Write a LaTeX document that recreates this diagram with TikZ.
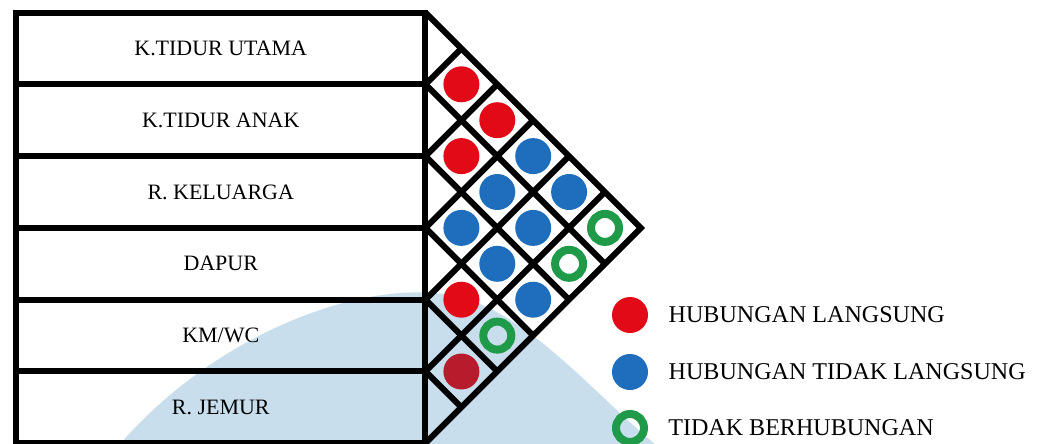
\documentclass[tikz,border=0pt]{standalone}
\usepackage{fontspec}
\setmainfont{Liberation Serif}
\usetikzlibrary{positioning}
\definecolor{dotRed}{HTML}{E30A17}
\definecolor{dotRedShade}{HTML}{B71C2C}
\definecolor{dotBlue}{HTML}{1F6EBE}
\definecolor{ringGreen}{HTML}{1F9A48}
\definecolor{markBlue}{HTML}{C9DEEC}

\begin{document}
\begin{tikzpicture}[
    x=0.02cm, y=-0.02cm,
    room/.style={draw=black, line width=0.12cm, minimum width=8.19cm, minimum height=1.436cm, inner sep=0pt, outer sep=0pt, font=\fontsize{12.5}{14}\selectfont},
    grid/.style={draw=black, line width=0.12cm},
    langsung/.style={circle, fill=dotRed, minimum size=0.72cm, inner sep=0pt},
    langsunggelap/.style={langsung, fill=dotRedShade},
    tidaklangsung/.style={circle, fill=dotBlue, minimum size=0.72cm, inner sep=0pt},
    tidakada/.style={circle, draw=ringGreen, line width=0.16cm, minimum size=0.56cm, inner sep=0pt},
    legtext/.style={font=\fontsize{13.7}{16}\selectfont, inner sep=0pt}
  ]
  \useasboundingbox (0,0) rectangle (1037,443);
  \fill[markBlue] (115,450) .. controls (215,330) and (380,270) .. (470,300) .. controls (540,325) and (600,400) .. (662,450) -- cycle;

  \node[room] (r1) at (220.75,48.4) {K.TIDUR UTAMA};
  \node[room, below=0pt of r1] (r2) {K.TIDUR ANAK};
  \node[room, below=0pt of r2] (r3) {R. KELUARGA};
  \node[room, below=0pt of r3] (r4) {DAPUR};
  \node[room, below=0pt of r4] (r5) {KM/WC};
  \node[room, below=0pt of r5] (r6) {R. JEMUR};

  \draw[grid, line join=miter] (r1.north east) -- ++(215.4,215.4) coordinate (apex) -- (r6.south east);
  \foreach \k in {1,...,5} {
    \draw[grid] (r\k.south east) -- ++({(6-\k)*35.9},{(6-\k)*35.9});
    \draw[grid] (r\k.south east) -- ++({\k*35.9},{-\k*35.9});
  }

  \foreach \i/\j/\s in {1/2/langsung, 1/3/langsung, 1/4/tidaklangsung, 1/5/tidaklangsung, 1/6/tidakada,
                        2/3/langsung, 2/4/tidaklangsung, 2/5/tidaklangsung, 2/6/tidakada,
                        3/4/tidaklangsung, 3/5/tidaklangsung, 3/6/tidaklangsung,
                        4/5/langsung, 4/6/tidakada, 5/6/langsunggelap}
    \node[\s] (c\i\j) at ({425.5+(\j-\i)*35.9},{12.5+35.9*(\i+\j-1)}) {};

  \node[langsung] (l1) at (630,315) {};
  \node[tidaklangsung] (l2) at (630,372) {};
  \node[tidakada] (l3) at (630,428) {};
  \node[legtext, right=0.4cm of l1] (t1) {HUBUNGAN LANGSUNG};
  \node[legtext, right=0.4cm of l2] (t2) {HUBUNGAN TIDAK LANGSUNG};
  \node[legtext, right=0.4cm of l3] (t3) {TIDAK BERHUBUNGAN};
\end{tikzpicture}
\end{document}
